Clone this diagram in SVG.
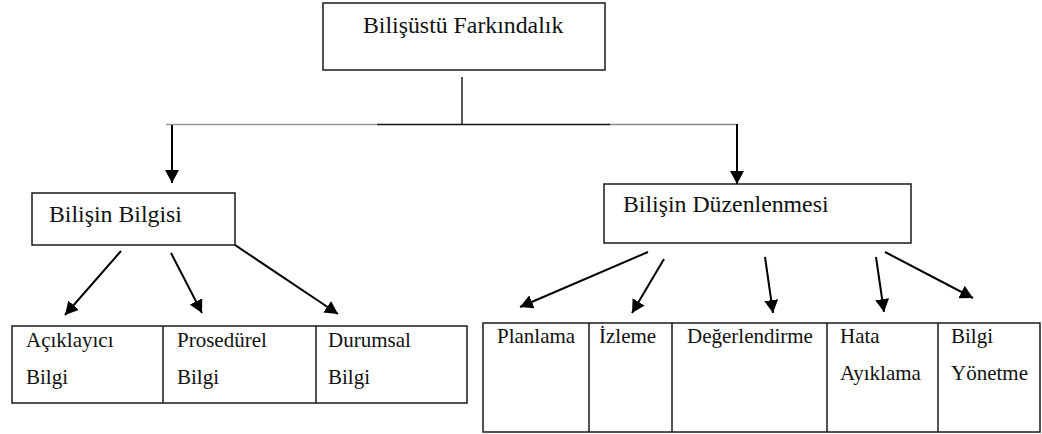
<svg xmlns="http://www.w3.org/2000/svg" width="1042" height="434" viewBox="0 0 1042 434">
  <style>
    .box { fill: #ffffff; stroke: #1a1a1a; stroke-width: 1.5; }
    .cell { fill: none; stroke: #1a1a1a; stroke-width: 1.5; }
    .t { font-family: "Liberation Serif", "Times New Roman", serif; fill: #111; }
    .h { font-size: 23.8px; }
    .c { font-size: 21px; }
    .wire { fill: none; stroke-width: 1.5; }
    .arrow { fill: none; stroke: #000; stroke-width: 2; marker-end: url(#head); }
  </style>
  <defs>
    <marker id="head" markerUnits="userSpaceOnUse" markerWidth="14" markerHeight="14" refX="13" refY="7" orient="auto">
      <path d="M0,0 L13,7 L0,14 z" fill="#000"/>
    </marker>
  </defs>

  <rect width="1042" height="434" fill="#ffffff"/>

  <!-- root node -->
  <g id="node-root">
    <rect class="box" x="323" y="3" width="282" height="67"/>
    <text class="t h" x="363" y="33">Bilişüstü Farkındalık</text>
  </g>

  <!-- first-level nodes -->
  <g id="node-bilgi">
    <rect class="box" x="32" y="193" width="203" height="52"/>
    <text class="t h" x="49" y="222">Bilişin Bilgisi</text>
  </g>
  <g id="node-duzen">
    <rect class="box" x="604" y="184" width="307" height="59"/>
    <text class="t h" x="623" y="212">Bilişin Düzenlenmesi</text>
  </g>

  <!-- knowledge table -->
  <g id="node-bilgi-table">
    <rect class="cell" x="12" y="326" width="455" height="77"/>
    <line class="cell" x1="163" y1="326" x2="163" y2="403"/>
    <line class="cell" x1="316" y1="326" x2="316" y2="403"/>
    <text class="t c" x="26" y="347">Açıklayıcı</text>
    <text class="t c" x="26" y="384">Bilgi</text>
    <text class="t c" x="177" y="347">Prosedürel</text>
    <text class="t c" x="177" y="384">Bilgi</text>
    <text class="t c" x="328" y="347">Durumsal</text>
    <text class="t c" x="328" y="384">Bilgi</text>
  </g>

  <!-- regulation table -->
  <g id="node-duzen-table">
    <rect class="cell" x="483" y="323" width="557" height="109"/>
    <line class="cell" x1="589" y1="323" x2="589" y2="432"/>
    <line class="cell" x1="672" y1="323" x2="672" y2="432"/>
    <line class="cell" x1="827" y1="323" x2="827" y2="432"/>
    <line class="cell" x1="938" y1="323" x2="938" y2="432"/>
    <text class="t c" x="497" y="343">Planlama</text>
    <text class="t c" x="599" y="343">İzleme</text>
    <text class="t c" x="687" y="343">Değerlendirme</text>
    <text class="t c" x="840" y="343">Hata</text>
    <text class="t c" x="840" y="380">Ayıklama</text>
    <text class="t c" x="951" y="343">Bilgi</text>
    <text class="t c" x="951" y="380">Yönetme</text>
  </g>

  <!-- connectors -->
  <g id="connectors">
    <line class="wire" stroke="#222" x1="462" y1="77" x2="462" y2="124.5"/>
    <line class="wire" stroke="#9a9a9a" x1="166" y1="124.5" x2="377" y2="124.5"/>
    <line class="wire" stroke="#111" x1="377" y1="124.5" x2="610" y2="124.5"/>
    <line class="wire" stroke="#8a8a8a" x1="610" y1="124.5" x2="737" y2="124.5"/>

    <line class="arrow" x1="172" y1="125" x2="172" y2="183"/>
    <line class="arrow" x1="737" y1="124" x2="737" y2="184"/>

    <line class="arrow" x1="121" y1="251" x2="65" y2="315"/>
    <line class="arrow" x1="171" y1="253" x2="202" y2="313"/>
    <line class="arrow" x1="235" y1="245" x2="338" y2="314"/>

    <line class="arrow" x1="648" y1="252" x2="520" y2="307"/>
    <line class="arrow" x1="664" y1="259" x2="632" y2="313"/>
    <line class="arrow" x1="765" y1="257" x2="773" y2="313"/>
    <line class="arrow" x1="876" y1="257" x2="884" y2="312"/>
    <line class="arrow" x1="885" y1="252" x2="973" y2="298"/>
  </g>
</svg>
